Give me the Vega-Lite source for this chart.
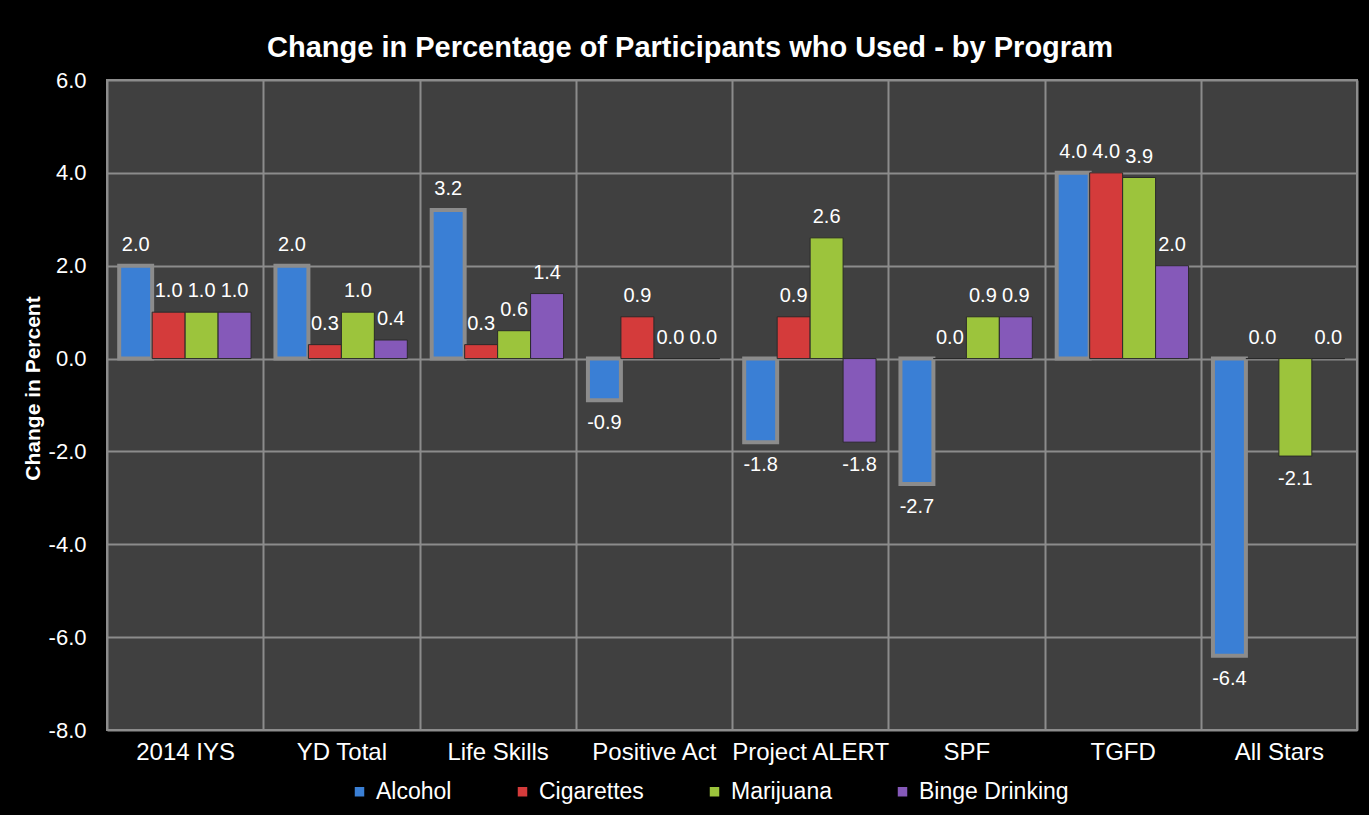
{
  "$schema": "https://vega.github.io/schema/vega-lite/v6.json",
  "width": 1250,
  "height": 650,
  "autosize": {"type": "none"},
  "padding": {"left": 107, "top": 80, "right": 12, "bottom": 85},
  "background": "#000000",
  "config": {
    "locale": {"number": {"decimal": ".", "thousands": ",", "grouping": [3], "currency": ["$", ""], "minus": "-"}},
    "view": {"fill": "#404040", "stroke": "#8c8c8c", "strokeWidth": 2},
    "font": "Liberation Sans"
  },
  "title": {
    "text": "Change in Percentage of Participants who Used - by Program",
    "color": "#ffffff",
    "fontSize": 29,
    "fontWeight": "bold",
    "font": "Liberation Sans",
    "anchor": "middle",
    "dx": -42,
    "offset": 6
  },
  "data": {
    "values": [
      {"program": "2014 IYS", "substance": "Alcohol", "value": 2.0},
      {"program": "2014 IYS", "substance": "Cigarettes", "value": 1.0},
      {"program": "2014 IYS", "substance": "Marijuana", "value": 1.0},
      {"program": "2014 IYS", "substance": "Binge Drinking", "value": 1.0},
      {"program": "YD Total", "substance": "Alcohol", "value": 2.0},
      {"program": "YD Total", "substance": "Cigarettes", "value": 0.3},
      {"program": "YD Total", "substance": "Marijuana", "value": 1.0},
      {"program": "YD Total", "substance": "Binge Drinking", "value": 0.4},
      {"program": "Life Skills", "substance": "Alcohol", "value": 3.2},
      {"program": "Life Skills", "substance": "Cigarettes", "value": 0.3},
      {"program": "Life Skills", "substance": "Marijuana", "value": 0.6},
      {"program": "Life Skills", "substance": "Binge Drinking", "value": 1.4},
      {"program": "Positive Act", "substance": "Alcohol", "value": -0.9},
      {"program": "Positive Act", "substance": "Cigarettes", "value": 0.9},
      {"program": "Positive Act", "substance": "Marijuana", "value": 0.0},
      {"program": "Positive Act", "substance": "Binge Drinking", "value": 0.0},
      {"program": "Project ALERT", "substance": "Alcohol", "value": -1.8},
      {"program": "Project ALERT", "substance": "Cigarettes", "value": 0.9},
      {"program": "Project ALERT", "substance": "Marijuana", "value": 2.6},
      {"program": "Project ALERT", "substance": "Binge Drinking", "value": -1.8},
      {"program": "SPF", "substance": "Alcohol", "value": -2.7},
      {"program": "SPF", "substance": "Cigarettes", "value": 0.0},
      {"program": "SPF", "substance": "Marijuana", "value": 0.9},
      {"program": "SPF", "substance": "Binge Drinking", "value": 0.9},
      {"program": "TGFD", "substance": "Alcohol", "value": 4.0},
      {"program": "TGFD", "substance": "Cigarettes", "value": 4.0},
      {"program": "TGFD", "substance": "Marijuana", "value": 3.9},
      {"program": "TGFD", "substance": "Binge Drinking", "value": 2.0},
      {"program": "All Stars", "substance": "Alcohol", "value": -6.4},
      {"program": "All Stars", "substance": "Cigarettes", "value": 0.0},
      {"program": "All Stars", "substance": "Marijuana", "value": -2.1},
      {"program": "All Stars", "substance": "Binge Drinking", "value": 0.0}
    ]
  },
  "encoding": {
    "x": {
      "field": "program",
      "type": "nominal",
      "sort": ["2014 IYS", "YD Total", "Life Skills", "Positive Act", "Project ALERT", "SPF", "TGFD", "All Stars"],
      "scale": {"paddingInner": 0, "paddingOuter": 0},
      "axis": {
        "title": null,
        "labelAngle": 0,
        "tickBand": "extent",
        "grid": true,
        "gridColor": "#8c8c8c",
        "gridWidth": 2,
        "ticks": false,
        "domain": false,
        "labelColor": "#ffffff",
        "labelFontSize": 24,
        "labelFont": "Liberation Sans",
        "labelPadding": 10
      }
    },
    "xOffset": {
      "field": "substance",
      "type": "nominal",
      "sort": ["Alcohol", "Cigarettes", "Marijuana", "Binge Drinking"],
      "scale": {"domain": ["Alcohol", "Cigarettes", "Marijuana", "Binge Drinking"], "paddingOuter": 0.37, "paddingInner": 0}
    },
    "y": {
      "field": "value",
      "type": "quantitative",
      "scale": {"domain": [-8, 6], "nice": false},
      "axis": {
        "values": [-8, -6, -4, -2, 0, 2, 4, 6],
        "format": ".1f",
        "title": "Change in Percent",
        "titleColor": "#ffffff",
        "titleFontSize": 21,
        "titleFontWeight": "bold",
        "titleFont": "Liberation Sans",
        "titleX": -64,
        "titleY": 308,
        "labelColor": "#ffffff",
        "labelFontSize": 22,
        "labelFont": "Liberation Sans",
        "labelPadding": 21,
        "ticks": false,
        "domain": false,
        "grid": true,
        "gridColor": "#8c8c8c",
        "gridWidth": 2
      }
    }
  },
  "layer": [
    {
      "mark": {"type": "bar"},
      "encoding": {
        "color": {
          "field": "substance",
          "type": "nominal",
          "scale": {
            "domain": ["Alcohol", "Cigarettes", "Marijuana", "Binge Drinking"],
            "range": ["#3a7fd5", "#d43b3b", "#9cc43c", "#8559b9"]
          },
          "legend": {
            "title": null,
            "orient": "none",
            "direction": "horizontal",
            "legendX": 241,
            "legendY": 700,
            "symbolType": "square",
            "symbolSize": 90,
            "symbolStrokeWidth": 0,
            "labelColor": "#ffffff",
            "labelFontSize": 23,
            "labelFont": "Liberation Sans",
            "labelOffset": 5,
            "columnPadding": 59,
            "labelLimit": 300
          }
        },
        "stroke": {"condition": {"test": "datum.substance === 'Alcohol'", "value": "#8c8c8c"}, "value": "#2a2a2a"},
        "strokeWidth": {"condition": {"test": "datum.substance === 'Alcohol'", "value": 4}, "value": 1}
      }
    },
    {
      "transform": [{"filter": "datum.value >= 0"}],
      "mark": {"type": "text", "baseline": "middle", "dy": -21, "fontSize": 20, "color": "#ffffff", "font": "Liberation Sans"},
      "encoding": {"text": {"field": "value", "type": "quantitative", "format": ".1f"}}
    },
    {
      "transform": [{"filter": "datum.value < 0"}],
      "mark": {"type": "text", "baseline": "middle", "dy": 23, "fontSize": 20, "color": "#ffffff", "font": "Liberation Sans"},
      "encoding": {"text": {"field": "value", "type": "quantitative", "format": ".1f"}}
    }
  ]
}
